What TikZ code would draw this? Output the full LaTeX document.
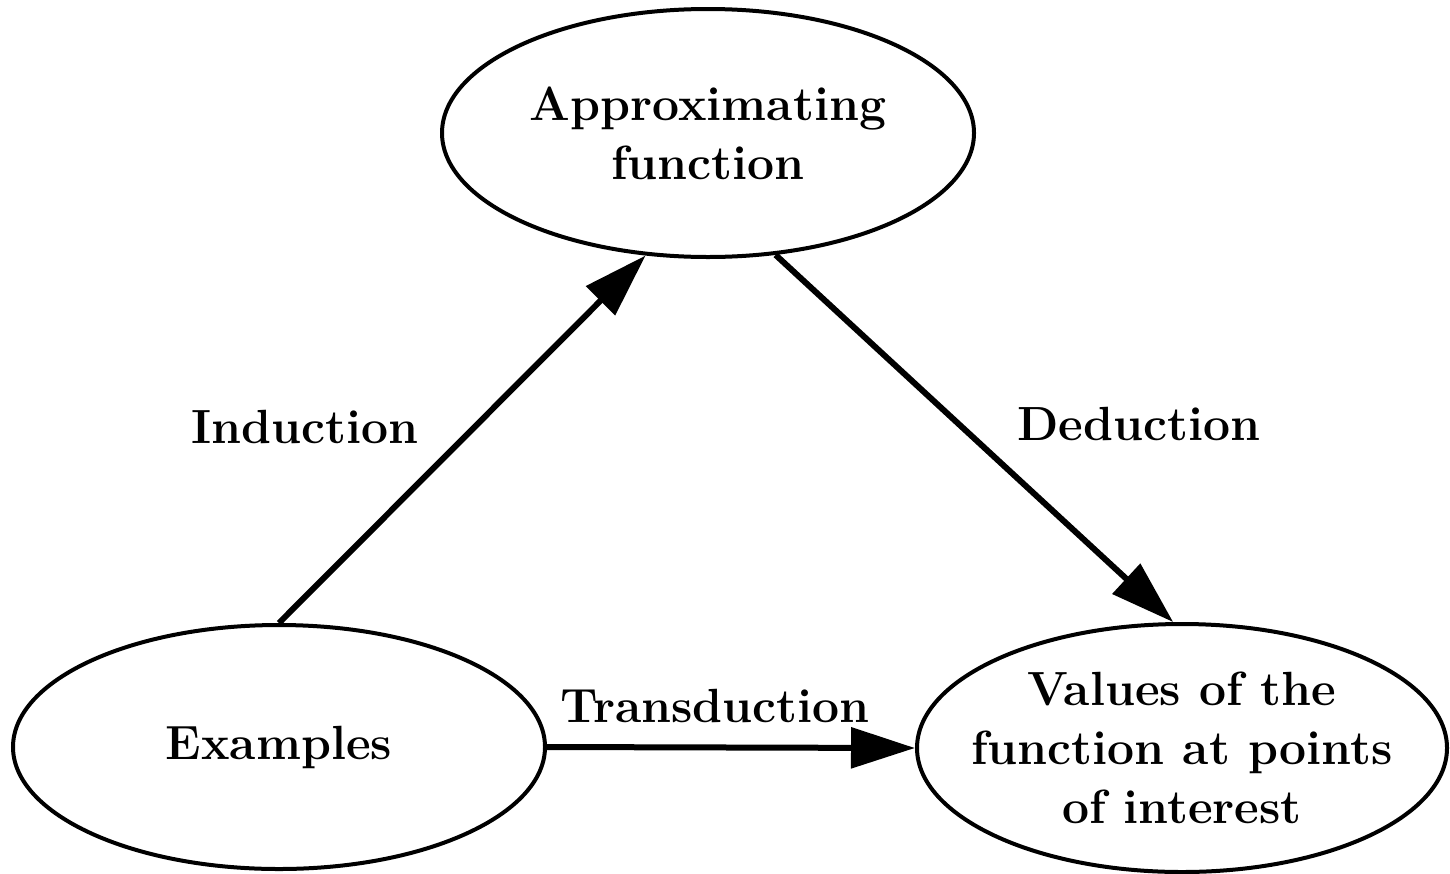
\documentclass[tikz,border=0pt]{standalone}
\usepackage{fontspec}
\usetikzlibrary{arrows.meta,shapes.geometric}
\tikzset{
  oval/.style={ellipse, draw, line width=4pt, inner xsep=-80pt, inner ysep=-50pt, align=center,
    font=\fontsize{48}{59}\selectfont\bfseries},
  lbl/.style={anchor=base, inner sep=0pt, font=\fontsize{48}{59}\selectfont\bfseries},
  conn/.style={line width=6pt, -{Triangle[length=64pt,width=40pt]}}
}
\begin{document}
\begin{tikzpicture}[x=1pt,y=-1pt]
\useasboundingbox (0,0) rectangle (1450,873);
\fill[white] (0,0) rectangle (1450,873);
\node[oval, minimum width=532pt, minimum height=248pt] (ap) at (708,133) {Approximating\\function};
\node[oval, minimum width=532pt, minimum height=244pt] (ex) at (279,747) {Examples};
\node[oval, minimum width=530pt, minimum height=248pt] (va) at (1182,748) {Values of the\\function at points\\of interest};
\draw[conn] (ex.90) -- (ap.243);
\draw[conn] (ap.299) -- (va.94.5);
\draw[conn] (ex.-0.5) -- (va.180);
\node[lbl] (ind) at (305,443) {Induction};
\node[lbl] (ded) at (1139,440) {Deduction};
\node[lbl] (tra) at (715,722) {Transduction};
\end{tikzpicture}
\end{document}
